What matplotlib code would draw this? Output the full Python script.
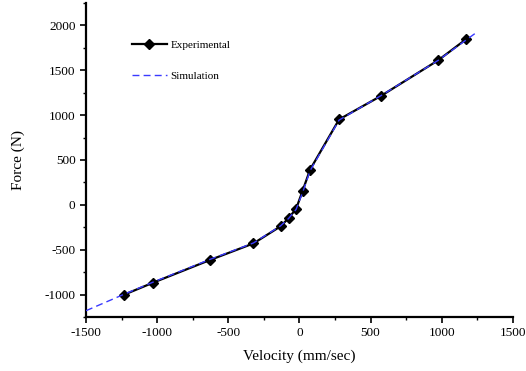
import matplotlib
matplotlib.use("Agg")
import matplotlib.pyplot as plt
from matplotlib.ticker import MultipleLocator

plt.rcParams['font.family'] = ['Liberation Serif', 'DejaVu Serif']
plt.rcParams['axes.unicode_minus'] = False

# experimental points (velocity mm/sec, force N)
exp_vel = [-1230, -1026, -632, -323, -133, -75, -23, 23, 75, 279, 571, 975, 1174]
exp_force = [-1000, -866, -617, -430, -240, -147, -43, 159, 393, 952, 1212, 1611, 1849]

# simulation curve
sim_vel = [-1500, -1230, -1026, -632, -323, -133, -75, -23, 23, 75, 279, 571, 975, 1237]
sim_force = [-1180, -995, -860, -610, -425, -235, -150, -50, 140, 380, 945, 1215, 1610, 1913]

x_ticks = [-1500, -1000, -500, 0, 500, 1000, 1500]
y_ticks = [-1000, -500, 0, 500, 1000, 1500, 2000]

fig = plt.figure(figsize=(5.26, 3.71), dpi=100)
ax = fig.add_axes([0.1635, 0.1456, 0.8115, 0.8464])

ax.plot(exp_vel, exp_force, color='black', lw=1.6, marker='D', ms=5.5,
        label='Experimental', zorder=3)
ax.plot(sim_vel, sim_force, color='#3a3aff', lw=1.0, ls=(0, (5, 3)),
        label='Simulation', zorder=4)

ax.set_xlim(-1500, 1500)
ax.set_ylim(-1250, 2250)
ax.set_xticks(x_ticks)
ax.set_yticks(y_ticks)
ax.xaxis.set_minor_locator(MultipleLocator(250))
ax.yaxis.set_minor_locator(MultipleLocator(250))

for s in ['top', 'right']:
    ax.spines[s].set_visible(False)
for s in ['left', 'bottom']:
    ax.spines[s].set_linewidth(1.6)

ax.tick_params(which='major', direction='out', length=4, width=1.2, labelsize=9.5)
ax.tick_params(which='minor', direction='out', length=2.5, width=1.0)

ax.set_xlabel('Velocity (mm/sec)', fontsize=11, labelpad=7)
ax.set_ylabel('Force (N)', fontsize=11, labelpad=14)

ax.legend(loc='upper left', bbox_to_anchor=(0.084, 0.914), frameon=False,
          fontsize=8, handlelength=3.15, handletextpad=0.3, labelspacing=1.9)

fig.savefig('out.png', dpi=100)
